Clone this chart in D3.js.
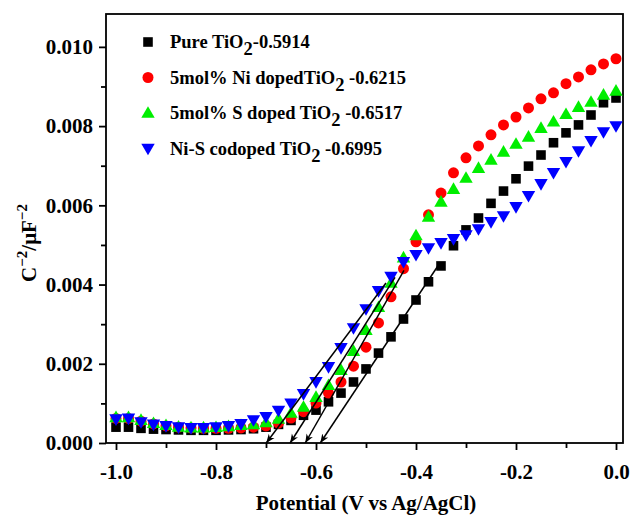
<!DOCTYPE html>
<html>
<head>
<meta charset="utf-8">
<script src="https://cdn.jsdelivr.net/npm/d3@7"></script>
<style>
  html, body { margin: 0; padding: 0; background: #fff; }
  svg { display: block; }
  text { font-family: "Liberation Serif", "Times New Roman", serif; font-weight: bold; }
</style>
</head>
<body>
<svg id="chart" width="630" height="520"></svg>
<script>
// Potential (V vs Ag/AgCl), sampled every 25 mV
const potential = d3.range(41).map(i => -1 + i * 0.025);

const pureTiO2 = [0.00040,0.00040,0.00037,0.00035,0.00034,0.00033,0.00032,0.00032,0.00032,0.00033,
  0.00034,0.00036,0.00040,0.00047,0.00057,0.00070,0.00083,0.00104,0.00126,0.00154,
  0.00187,0.00227,0.00268,0.00313,0.00361,0.00407,0.00447,0.00498,0.00538,0.00568,
  0.00605,0.00636,0.00667,0.00699,0.00727,0.00758,0.00783,0.00803,0.00828,0.00859,0.00871];

const niDoped = [0.00062,0.00062,0.00055,0.00048,0.00043,0.00040,0.00038,0.00037,0.00037,0.00037,
  0.00038,0.00040,0.00043,0.00050,0.00063,0.00079,0.00101,0.00126,0.00154,0.00194,
  0.00242,0.00303,0.00369,0.00440,0.00508,0.00576,0.00631,0.00682,0.00720,0.00750,
  0.00778,0.00803,0.00823,0.00846,0.00869,0.00884,0.00907,0.00924,0.00942,0.00957,0.00970];

const sDoped = [0.00065,0.00065,0.00058,0.00050,0.00045,0.00041,0.00039,0.00039,0.00040,0.00042,
  0.00045,0.00047,0.00052,0.00061,0.00076,0.00091,0.00116,0.00146,0.00184,0.00232,
  0.00285,0.00343,0.00404,0.00468,0.00524,0.00571,0.00609,0.00641,0.00669,0.00694,
  0.00715,0.00735,0.00755,0.00773,0.00795,0.00811,0.00830,0.00848,0.00861,0.00879,0.00889];

const niSCodoped = [0.00060,0.00062,0.00053,0.00047,0.00043,0.00040,0.00038,0.00038,0.00040,0.00043,
  0.00048,0.00058,0.00066,0.00082,0.00100,0.00124,0.00154,0.00192,0.00240,0.00290,
  0.00338,0.00384,0.00420,0.00457,0.00475,0.00492,0.00505,0.00515,0.00525,0.00540,
  0.00558,0.00573,0.00596,0.00624,0.00654,0.00682,0.00710,0.00737,0.00763,0.00785,0.00800];

// Flat-band potentials (x-intercepts of the Mott-Schottky fits)
const flatBand = [-0.5914, -0.6215, -0.6517, -0.6995];
// Upper end of each fit line (potential, C^-2)
const fitTopX = [-0.352, -0.424, -0.442, -0.460];
const fitTopY = [0.00455, 0.00436, 0.00418, 0.00404];

const seriesNames = ["Pure TiO", "5mol% Ni dopedTiO", "5mol% S doped TiO", "Ni-S codoped TiO"];
const seriesTails = ["-0.5914", " -0.6215", " -0.6517", " -0.6995"];
const seriesColors = ["#000000", "#ff0000", "#00ee00", "#0000ff"];
const seriesShapes = ["square", "circle", "triangleUp", "triangleDown"];
const seriesValues = [pureTiO2, niDoped, sDoped, niSCodoped];

const xTicks = [-1.0, -0.8, -0.6, -0.4, -0.2, 0.0];
const yTicks = [0.000, 0.002, 0.004, 0.006, 0.008, 0.010];

const svg = d3.select("#chart");
const plotLeft = 106, plotRight = 623, plotTop = 14, plotBottom = 443;

const x = d3.scaleLinear().domain([-1.02, 0.014]).range([plotLeft, plotRight]);
const y = d3.scaleLinear().domain([0, 0.01083]).range([plotBottom, plotTop]);

// Arrowhead for the fit lines
const defs = svg.append("defs");
defs.append("marker")
  .attr("id", "arrow").attr("viewBox", "0 0 10 10")
  .attr("refX", 10).attr("refY", 5)
  .attr("markerWidth", 9).attr("markerHeight", 9)
  .attr("markerUnits", "userSpaceOnUse")
  .attr("orient", "auto")
  .append("path").attr("d", "M0,1 L10,5 L0,9 L3,5 Z").attr("fill", "#000");

// Axis frame
svg.append("rect")
  .attr("x", plotLeft).attr("y", plotTop)
  .attr("width", plotRight - plotLeft).attr("height", plotBottom - plotTop)
  .attr("fill", "none").attr("stroke", "#000").attr("stroke-width", 1.8);

// Bottom axis: major and minor ticks
const xAxis = d3.axisBottom(x).tickValues(xTicks).tickSize(7)
  .tickFormat(d => d3.format(".1f")(d).replace("−", "-"));
const gx = svg.append("g").attr("transform", `translate(0,${plotBottom})`).call(xAxis);
gx.select(".domain").remove();
gx.selectAll("line").attr("stroke-width", 1.8);
gx.selectAll("text").attr("font-size", 21).attr("y", 21).attr("dy", "0.71em").attr("fill", "#000");
const gxm = svg.append("g").attr("transform", `translate(0,${plotBottom})`)
  .call(d3.axisBottom(x).tickValues([-0.9, -0.7, -0.5, -0.3, -0.1]).tickSize(5).tickFormat(""));
gxm.select(".domain").remove();
gxm.selectAll("line").attr("stroke-width", 1.8);

// Left axis: major and minor ticks
const yAxis = d3.axisLeft(y).tickValues(yTicks).tickSize(7).tickFormat(d3.format(".3f"));
const gy = svg.append("g").attr("transform", `translate(${plotLeft},0)`).call(yAxis);
gy.select(".domain").remove();
gy.selectAll("line").attr("stroke-width", 1.8);
gy.selectAll("text").attr("font-size", 21).attr("x", -13).attr("fill", "#000");
const gym = svg.append("g").attr("transform", `translate(${plotLeft},0)`)
  .call(d3.axisLeft(y).tickValues([0.001, 0.003, 0.005, 0.007, 0.009]).tickSize(5).tickFormat(""));
gym.select(".domain").remove();
gym.selectAll("line").attr("stroke-width", 1.8);

// Axis titles
svg.append("text")
  .attr("x", 366).attr("y", 510)
  .attr("text-anchor", "middle").attr("font-size", 21)
  .text("Potential (V vs Ag/AgCl)");

const yt = svg.append("text")
  .attr("transform", "translate(36,243) rotate(-90)")
  .attr("text-anchor", "middle").attr("font-size", 21);
yt.append("tspan").text("C");
yt.append("tspan").attr("font-size", 15).attr("dy", -9).text("−2");
yt.append("tspan").attr("dy", 9).text("/μF");
yt.append("tspan").attr("font-size", 15).attr("dy", -9).text("−2");

// Symbol generator per series
function symbolPath(shape) {
  if (shape === "square") return d3.symbol(d3.symbolSquare, 92)();
  if (shape === "circle") return d3.symbol(d3.symbolCircle, 95)();
  return d3.symbol(d3.symbolTriangle, 78)();
}
function symbolTransform(shape, px, py) {
  if (shape === "triangleUp") return `translate(${px},${py + 1})`;
  if (shape === "triangleDown") return `translate(${px},${py - 1}) rotate(180)`;
  return `translate(${px},${py})`;
}

// Data points (blue drawn last so it sits on top)
seriesValues.forEach((vals, i) => {
  svg.append("g").selectAll("path")
    .data(vals.map((v, j) => [potential[j], v]))
    .join("path")
    .attr("d", symbolPath(seriesShapes[i]))
    .attr("transform", d => symbolTransform(seriesShapes[i], x(d[0]), y(d[1])))
    .attr("fill", seriesColors[i]);
});

// Linear fits extrapolated to the potential axis
const fits = svg.append("g");
flatBand.forEach((fb, i) => {
  fits.append("line")
    .attr("x1", x(fitTopX[i])).attr("y1", y(fitTopY[i]))
    .attr("x2", x(fb)).attr("y2", y(0))
    .attr("stroke", "#000").attr("stroke-width", 1.5)
    .attr("marker-end", "url(#arrow)");
});

// Legend
const legend = svg.append("g");
seriesNames.forEach((name, i) => {
  const ly = 42 + i * 35.5;
  legend.append("path")
    .attr("d", symbolPath(seriesShapes[i]))
    .attr("transform", symbolTransform(seriesShapes[i], 148, ly))
    .attr("fill", seriesColors[i]);
  const t = legend.append("text").attr("x", 170).attr("y", ly + 6).attr("font-size", 18.5);
  t.append("tspan").text(name);
  t.append("tspan").attr("dy", 7).text("2");
  t.append("tspan").attr("dy", -7).text(seriesTails[i]);
});
</script>
</body>
</html>
